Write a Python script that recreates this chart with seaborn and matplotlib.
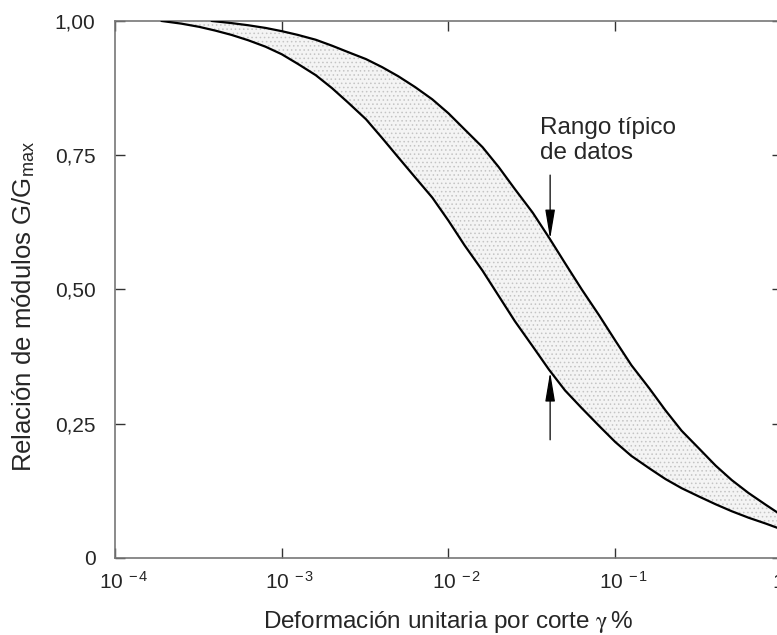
import numpy as np
import pandas as pd
import matplotlib
matplotlib.use('Agg')
import matplotlib.pyplot as plt
import seaborn as sns
from matplotlib.transforms import ScaledTranslation

# ---------------------------------------------------
# curves (gamma in %, G/Gmax)

gamma_up = [3.8e-4, 5e-4, 6.3e-4, 8e-4, 1e-3, 1.25e-3, 1.6e-3, 2e-3, 2.5e-3, 3.2e-3, 4e-3, 5e-3,
            6.3e-3, 8e-3, 1e-2, 1.25e-2, 1.6e-2, 2e-2, 2.5e-2, 3.2e-2, 4e-2, 5e-2, 6.3e-2, 8e-2,
            0.1, 0.125, 0.16, 0.2, 0.25, 0.32, 0.4, 0.5, 0.63, 0.8, 1.0]
g_up = [1.000, 0.996, 0.992, 0.987, 0.981, 0.974, 0.965, 0.954, 0.942, 0.929, 0.914, 0.897,
        0.877, 0.854, 0.828, 0.798, 0.765, 0.728, 0.687, 0.643, 0.597, 0.549, 0.500, 0.452,
        0.405, 0.359, 0.316, 0.275, 0.237, 0.203, 0.172, 0.145, 0.121, 0.099, 0.079]

gamma_lo = [1.9e-4, 2.5e-4, 3.2e-4, 4e-4, 5e-4, 6.3e-4, 8e-4, 1e-3, 1.25e-3, 1.6e-3, 2e-3, 2.5e-3,
            3.2e-3, 4e-3, 5e-3, 6.3e-3, 8e-3, 1e-2, 1.25e-2, 1.6e-2, 2e-2, 2.5e-2, 3.2e-2, 4e-2,
            5e-2, 6.3e-2, 8e-2, 0.1, 0.125, 0.16, 0.2, 0.25, 0.32, 0.4, 0.5, 0.63, 0.8, 1.0]
g_lo = [1.000, 0.995, 0.989, 0.982, 0.974, 0.964, 0.952, 0.938, 0.920, 0.899, 0.875, 0.848,
        0.817, 0.782, 0.746, 0.709, 0.671, 0.628, 0.582, 0.535, 0.488, 0.441, 0.394, 0.351,
        0.312, 0.279, 0.246, 0.216, 0.190, 0.167, 0.147, 0.130, 0.114, 0.100, 0.087, 0.075,
        0.064, 0.053]

xticks = [1e-4, 1e-3, 1e-2, 1e-1, 1e0]
xticklabels = [r'$\mathregular{10^{\ -4}}$', r'$\mathregular{10^{\ -3}}$', r'$\mathregular{10^{\ -2}}$',
               r'$\mathregular{10^{\ -1}}$', r'$\mathregular{10^{\ 0}}$']
yticks = [0, 0.25, 0.5, 0.75, 1.0]
yticklabels = ['0', '0,25', '0,50', '0,75', '1,00']

arrow_x = 0.0407
arrow_up = (0.713, 0.594)   # tail, tip
arrow_lo = (0.220, 0.346)

# ---------------------------------------------------

sns.set_theme(style='ticks')
plt.rcParams['font.family'] = ['Liberation Sans', 'DejaVu Sans']
plt.rcParams['mathtext.fontset'] = 'stix'
plt.rcParams['hatch.linewidth'] = 0.6

df_up = pd.DataFrame({'gamma': gamma_up, 'g': g_up})
df_lo = pd.DataFrame({'gamma': gamma_lo, 'g': g_lo})

fig = plt.figure(figsize=(7.77, 6.35), dpi=100)
ax = fig.add_axes([0.148, 0.1213, 0.8584, 0.8457])

# shaded band between the two curves
poly_x = list(gamma_lo) + list(gamma_up[::-1])
poly_y = list(g_lo) + list(g_up[::-1])
ax.fill(poly_x, poly_y, facecolor='#f4f4f4', edgecolor='#c4c4c4', hatch='....', linewidth=0, zorder=1)

sns.lineplot(data=df_up, x='gamma', y='g', color='black', lw=1.6, ax=ax, zorder=3)
sns.lineplot(data=df_lo, x='gamma', y='g', color='black', lw=1.6, ax=ax, zorder=3)

ax.set_xscale('log')
ax.set_xlim(1e-4, 1)
ax.set_ylim(0, 1)
ax.set_xticks(xticks)
ax.set_xticklabels(xticklabels)
ax.minorticks_off()
ax.set_yticks(yticks)
ax.set_yticklabels(yticklabels)

ax.tick_params(direction='in', length=7, width=1, color='#333333', labelsize=15,
               top=True, right=True)
ax.tick_params(axis='y', pad=14)
ax.tick_params(axis='x', pad=9)
for lab in ax.get_xticklabels():
    lab.set_transform(lab.get_transform() + ScaledTranslation(6 / 72, 0, fig.dpi_scale_trans))

for sp in ax.spines.values():
    sp.set_color('#777777')
    sp.set_linewidth(1.2)

ax.set_xlabel(r'Deformación unitaria por corte $\mathrm{\gamma}\,$%', fontsize=17.5, labelpad=12)
ax.set_ylabel(r'Relación de módulos G/G$_{\mathregular{max}}$', fontsize=18.5)
ax.yaxis.set_label_coords(-0.117, 0.469)

# arrows pointing to the band
arrow_style = dict(arrowstyle='-|>,head_length=1.8,head_width=0.3', color='black', lw=0.9,
                   shrinkA=0, shrinkB=0, mutation_scale=10)
ax.annotate('', xy=(arrow_x, arrow_up[1]), xytext=(arrow_x, arrow_up[0]), arrowprops=arrow_style, zorder=4)
ax.annotate('', xy=(arrow_x, arrow_lo[1]), xytext=(arrow_x, arrow_lo[0]), arrowprops=arrow_style, zorder=4)

ax.text(0.0354, 0.822, 'Rango típico\nde datos', fontsize=17.5, ha='left', va='top', linespacing=1.2)

fig.savefig('out.png', dpi=100)
